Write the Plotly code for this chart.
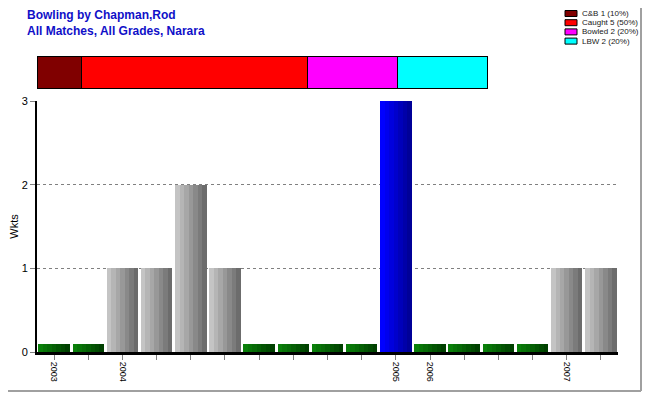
import plotly.graph_objects as go

# ---- data ----
wkts = [0, 0, 1, 1, 2, 1, 0, 0, 0, 0, 3, 0, 0, 0, 0, 1, 1]
tick_labels = ["2003", "", "2004", "", "", "", "", "", "", "", "2005", "2006", "", "", "", "2007", ""]
dismissal_names = ["C&B", "Caught", "Bowled", "LBW"]
dismissal_counts = [1, 5, 2, 2]
dismissal_colors = ["#800000", "#ff0000", "#ff00ff", "#00ffff"]

zero_stub = 0.1
n_stripes = 7
bar_w = 0.92

FONT = "Liberation Sans, Arial, sans-serif"
OFF = 8  # page body margin offset
W, H = 650 - 2 * OFF, 400 - 2 * OFF
# plot area in screenshot pixels: x 37..618, y 101..352
ML = 37 - OFF
MR = W - (618 - OFF)
MT = 50 - OFF
MB = H - (352 - OFF)
PW, PH = W - ML - MR, H - MT - MB

def px_x(p):  # screenshot pixel -> paper x
    return (p - OFF - ML) / PW

def px_y(p):  # screenshot pixel -> paper y
    return (H - MB - (p - OFF)) / PH

def lerp(c1, c2, t):
    return "#%02x%02x%02x" % tuple(int(round(a + (b - a) * t)) for a, b in zip(c1, c2))

max_w = max(wkts)
def base_pair(v):
    if v == 0:
        return (0x0a, 0x80, 0x0a), (0x00, 0x40, 0x00)
    if v == max_w:
        return (0x00, 0x00, 0xff), (0x00, 0x00, 0x98)
    return (0xc4, 0xc4, 0xc4), (0x6c, 0x6c, 0x6c)

xs = list(range(len(wkts)))
heights = [v if v > 0 else zero_stub for v in wkts]

fig = go.Figure()
sw = bar_w / n_stripes
for i in range(n_stripes):
    t = i / (n_stripes - 1)
    cols = [lerp(*base_pair(v), t) for v in wkts]
    fig.add_trace(go.Bar(
        x=xs, y=heights, width=sw, offset=-bar_w / 2 + i * sw,
        marker=dict(color=cols, line=dict(width=0)),
        showlegend=False, hoverinfo="skip", xaxis="x", yaxis="y",
    ))

total = sum(dismissal_counts)
pcts = [100 * c / total for c in dismissal_counts]
base = 0
for name, cnt, p, col in zip(dismissal_names, dismissal_counts, pcts, dismissal_colors):
    fig.add_trace(go.Bar(
        x=[p], y=[0], base=base, orientation="h", width=1,
        marker=dict(color=col, line=dict(color="black", width=1)),
        showlegend=False, xaxis="x2", yaxis="y2", hoverinfo="skip",
    ))
    base += p

fig.add_shape(type="rect", xref="x2", yref="y2", x0=0, x1=100, y0=-0.5, y1=0.5,
              line=dict(color="black", width=2))

# manual compact legend (top right)
for k, (name, cnt, p, col) in enumerate(zip(dismissal_names, dismissal_counts, pcts, dismissal_colors)):
    cy = 13.5 + 9.2 * k
    fig.add_shape(type="rect", xref="paper", yref="paper",
                  x0=px_x(565), x1=px_x(577), y0=px_y(cy + 3), y1=px_y(cy - 3),
                  fillcolor=col, line=dict(color="black", width=1))
    fig.add_annotation(text=f"{name} {cnt} ({round(p)}%)", xref="paper", yref="paper",
                       x=px_x(580), y=px_y(cy), xanchor="left", yanchor="middle",
                       showarrow=False, font=dict(family=FONT, size=8, color="#202020"))

# frame (right & bottom edge of the figure)
fx = px_x(OFF + W - 1)
fy = px_y(OFF + H - 1)
fig.add_shape(type="line", xref="paper", yref="paper", x0=fx, x1=fx,
              y0=fy, y1=px_y(OFF), line=dict(color="#a0a0a0", width=2))
fig.add_shape(type="line", xref="paper", yref="paper", x0=px_x(OFF), x1=fx,
              y0=fy, y1=fy, line=dict(color="#a0a0a0", width=2))

fig.add_annotation(
    text="<b>Bowling by Chapman,Rod<br>All Matches, All Grades, Narara</b>",
    xref="paper", yref="paper", x=px_x(25), y=px_y(6), xanchor="left", yanchor="top",
    showarrow=False, align="left", font=dict(family=FONT, size=12, color="#1010c8"),
)

fig.update_layout(
    width=W, height=H,
    margin=dict(l=ML, r=MR, t=MT, b=MB, autoexpand=False),
    paper_bgcolor="white", plot_bgcolor="white",
    barmode="overlay", bargap=0, showlegend=False,
    font=dict(family=FONT, size=10, color="black"),
    xaxis=dict(
        range=[-0.5, len(wkts) - 0.5], tickmode="array", tickvals=xs, ticktext=tick_labels,
        tickangle=90, tickfont=dict(size=9), ticks="outside", ticklen=5, tickcolor="#808080",
        showline=True, linecolor="black", linewidth=3, showgrid=False, zeroline=False,
        anchor="y", domain=[0, 1], automargin=False,
    ),
    yaxis=dict(
        range=[0, 3], dtick=1, domain=[0, px_y(101)], ticks="outside", ticklen=5, tickcolor="#808080",
        showline=True, linecolor="black", linewidth=2, showgrid=True, gridcolor="#808080",
        griddash="3px,3px", gridwidth=1, zeroline=False, tickfont=dict(size=11),
        title=dict(text="Wkts", font=dict(size=11), standoff=6), automargin=False,
    ),
    xaxis2=dict(domain=[0, px_x(488)], range=[0, 100], visible=False, anchor="y2"),
    yaxis2=dict(domain=[px_y(89), px_y(56)], range=[-0.5, 0.5], visible=False, anchor="x2"),
)

fig.write_html("out.html")
